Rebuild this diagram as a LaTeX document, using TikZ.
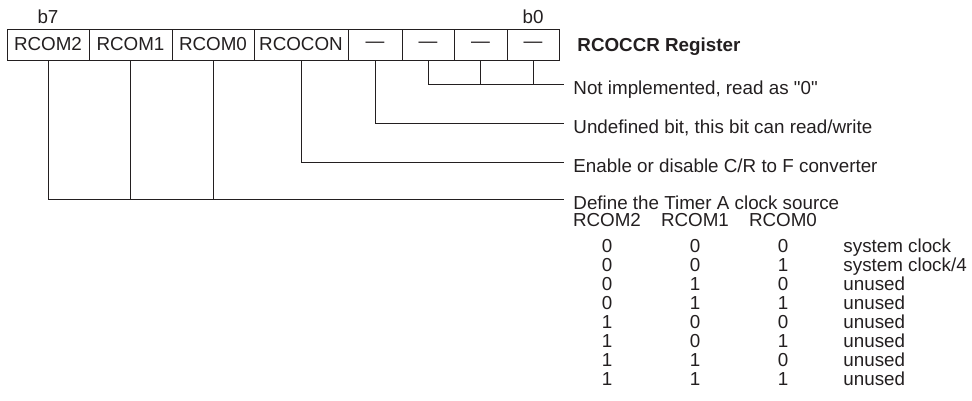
\documentclass[tikz,border=0pt]{standalone}
\usepackage{fontspec}
\setmainfont{Liberation Sans}
\definecolor{ink}{HTML}{231F20}
\begin{document}
\begin{tikzpicture}[x=1pt,y=-1pt, line width=0.9pt, color=ink,
  every node/.style={font=\fontsize{18.8}{20}\selectfont, text=ink},
  cell/.style={draw, minimum height=31pt, inner sep=0pt, outer sep=0pt, anchor=north west},
  lbl/.style={anchor=base west, inner sep=0pt},
  ctr/.style={anchor=base, inner sep=0pt}]
\useasboundingbox (0,0) rectangle (972,400);
% register cells
\node[cell, minimum width=82pt] (c7) at (7,29)   {RCOM2};
\node[cell, minimum width=83pt] (c6) at (89,29)  {RCOM1};
\node[cell, minimum width=82pt] (c5) at (172,29) {RCOM0};
\node[cell, minimum width=94pt] (c4) at (254,29) {RCOCON};
\node[cell, minimum width=54pt] (c3) at (348,29) {---};
\node[cell, minimum width=52pt] (c2) at (402,29) {---};
\node[cell, minimum width=53pt] (c1) at (454,29) {---};
\node[cell, minimum width=52pt] (c0) at (507,29) {---};
% bit labels
\node[ctr] (b7) at (c7.south |- 0,23) {b7};
\node[ctr] (b0) at (c0.south |- 0,23) {b0};
\node[lbl, font=\fontsize{18.8}{20}\selectfont\bfseries] (title) at (577,51) {RCOCCR Register};
% line ends
\coordinate (e0) at (564,84);
\coordinate (e1) at (564,123);
\coordinate (e2) at (564,162);
\coordinate (e3) at (564,199);
% connectors
\draw (c2.south) |- (e0);
\draw (c1.south) -- (c1.south |- e0);
\draw (c0.south) -- (c0.south |- e0);
\draw (c3.south) |- (e1);
\draw (c4.south) |- (e2);
\draw (c7.south) |- (e3);
\draw (c6.south) -- (c6.south |- e3);
\draw (c5.south) -- (c5.south |- e3);
% descriptions
\node[lbl] (t0) at (573,94)  {Not implemented, read as \textquotedbl 0\textquotedbl};
\node[lbl] (t1) at (573,133) {Undefined bit, this bit can read/write};
\node[lbl] (t2) at (573,172) {Enable or disable C/R to F converter};
\node[lbl] (t3) at (573,209) {Define the Timer A clock source};
% table header
\node[ctr] (h2) at (607,226.2) {RCOM2};
\node[ctr] (h1) at (695,226.2) {RCOM1};
\node[ctr] (h0) at (783,226.2) {RCOM0};
% table rows
\foreach \a/\b/\c [count=\i from 0] in {0/0/0,0/0/1,0/1/0,0/1/1,1/0/0,1/0/1,1/1/0,1/1/1}{
  \node[ctr] (ra\i) at (607,252+19.1*\i) {\a};
  \node[ctr] (rb\i) at (695,252+19.1*\i) {\b};
  \node[ctr] (rc\i) at (783,252+19.1*\i) {\c};
}
\node[lbl] (d0) at (843,252.0) {system clock};
\node[lbl] (d1) at (843,271.1) {system clock/4};
\node[lbl] (d2) at (843,290.2) {unused};
\node[lbl] (d3) at (843,309.3) {unused};
\node[lbl] (d4) at (843,328.4) {unused};
\node[lbl] (d5) at (843,347.5) {unused};
\node[lbl] (d6) at (843,366.6) {unused};
\node[lbl] (d7) at (843,385.7) {unused};
\end{tikzpicture}
\end{document}
